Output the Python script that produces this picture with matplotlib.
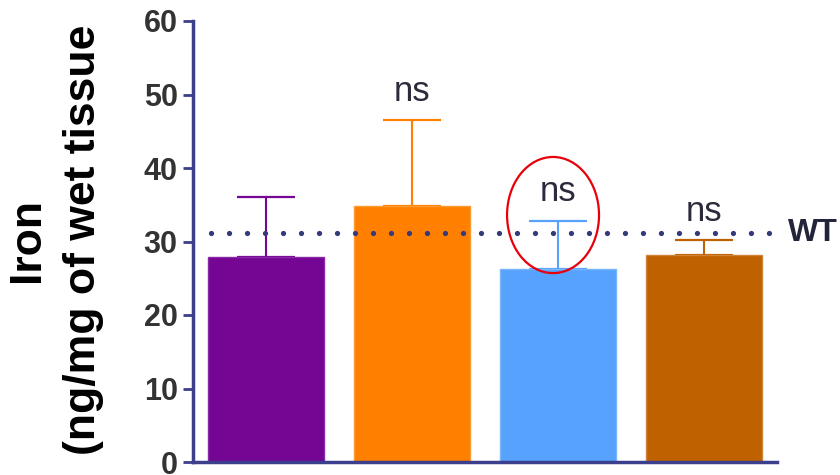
import matplotlib.pyplot as plt
from matplotlib.patches import Ellipse

plt.rcParams['font.family'] = ['Liberation Sans', 'DejaVu Sans']

# данные
groups = ['A', 'B', 'C', 'D']
iron = [27.9, 34.8, 26.2, 28.2]
sem = [8.2, 11.7, 6.6, 2.0]
wt_level = 31.1
colors = ['#750593', '#ff8000', '#56a2fc', '#c06100']
edges = ['#8a2aa6', '#ff9a33', '#7ab6fd', '#d0843a']
sig = ['', 'ns', 'ns', 'ns']
axis_col = '#3b3f8c'

fig = plt.figure(figsize=(8.4, 4.75), dpi=100)
ax = fig.add_axes([193 / 840, 13 / 475, 584 / 840, 441 / 475])

x = range(len(groups))
ax.bar(x, iron, width=0.795, color=colors, edgecolor=edges, linewidth=1, zorder=2)
for i in x:
    ax.errorbar(i, iron[i], yerr=[[0], [sem[i]]], color=colors[i], elinewidth=1.5,
                capsize=20.9, capthick=1.6, zorder=1)
    if sig[i]:
        ax.annotate(sig[i], (i, iron[i] + sem[i]), xytext=(0, 14), textcoords='offset points',
                    ha='center', va='baseline', fontsize=25, color='#2b2b3b')

# линия WT
ax.plot([0.03, 0.986], [wt_level, wt_level], transform=ax.get_yaxis_transform(),
        color='#353a7a', linewidth=3.8, linestyle=(0, (0.01, 3.4)),
        dash_capstyle='round', zorder=3)
ax.text(1.018, wt_level, 'WT', transform=ax.get_yaxis_transform(), ha='left', va='center',
        fontsize=23, fontweight='bold', color='#22243a', clip_on=False)

# красный овал
ax.add_patch(Ellipse((1.966, 33.6), 0.63, 15.8, fill=False, edgecolor='#e8000b',
                     linewidth=1.6, zorder=4))

ax.set_xlim(-0.5, 3.5)
ax.set_ylim(0, 60)
ax.set_yticks([0, 10, 20, 30, 40, 50, 60])
ax.set_xticks([])
for s in ['top', 'right']:
    ax.spines[s].set_visible(False)
for s in ['left', 'bottom']:
    ax.spines[s].set_color(axis_col)
    ax.spines[s].set_linewidth(2.5)
ax.tick_params(axis='y', length=7, width=2, color=axis_col, pad=4,
               labelsize=22, labelcolor='#333333')
for lab in ax.get_yticklabels():
    lab.set_fontweight('bold')

fig.text(28 / 840, 1 - 240 / 475, 'Iron', rotation=90, ha='center', va='center',
         fontsize=32, fontweight='bold', color='black')
fig.text(84 / 840, 1 - 240 / 475, '(ng/mg of wet tissue', rotation=90, ha='center',
         va='center', fontsize=32, fontweight='bold', color='black')

fig.savefig('out.png', dpi=100)
